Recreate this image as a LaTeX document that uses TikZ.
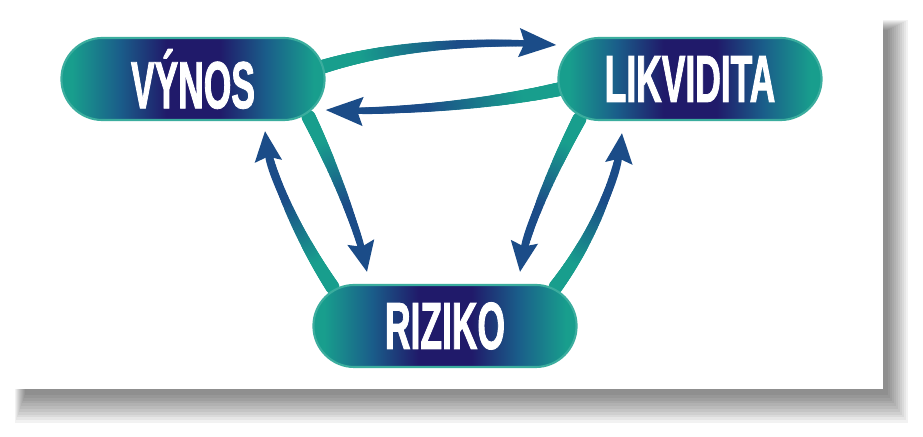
\documentclass[tikz,border=0pt]{standalone}
\usepackage{fontspec}
\usepackage{xcolor}
\usepackage{tikz}
\usetikzlibrary{positioning, arrows.meta, decorations.markings}
\newfontfamily\pismo[FakeStretch=0.53, FakeBold=1.2]{Liberation Sans}
\pgfdeclarelayer{pozadi}
\pgfdeclarelayer{spoje}
\pgfsetlayers{pozadi,spoje,main}
\definecolor{tyrkys}{HTML}{189E8D}
\definecolor{indigo}{HTML}{201A6A}
\definecolor{modra}{HTML}{1B4C88}
\definecolor{prechod}{HTML}{1A5E8A}
\pgfdeclarehorizontalshading{pilulka}{100bp}{color(0bp)=(tyrkys); color(27bp)=(tyrkys);
  color(36bp)=(prechod); color(45bp)=(indigo); color(55bp)=(indigo);
  color(64bp)=(prechod); color(73bp)=(tyrkys); color(100bp)=(tyrkys)}

\begin{document}
\begin{tikzpicture}[x=0.01cm, y=-0.01cm,
  uzel/.style={rectangle, rounded corners=4.1mm, minimum width=2.63cm, minimum height=0.82cm,
    inner sep=0pt, shading=pilulka, draw=tyrkys!85, line width=0.6pt, text=white,
    font=\pismo\bfseries\fontsize{19}{19}\selectfont},
  sipka/.style={draw=modra, line width=1.5pt, -{Stealth[length=8.5pt, width=7.5pt, inset=1.2pt]},
    postaction={decorate, decoration={markings,
      mark=between positions 0 and 0.9 step 0.4pt with {
        \pgfmathsetmacro\f{\pgfkeysvalueof{/pgf/decoration/mark info/distance from start}/\pgfdecoratedpathlength}
        \pgfmathsetmacro\r{2.0-1.3*\f}
        \pgfmathsetmacro\m{max(0,min(100,(\f-0.2)*250))}
        \fill[modra!\m!tyrkys] (0,0) circle[radius=\r pt];
      }}}},
  vodorovna/.style={-{Stealth[length=10.5pt, width=8pt, inset=1.5pt]}}]
\useasboundingbox (0,0) rectangle (923,437);

% VRSTVA 1: karta se stinem
\begin{pgfonlayer}{pozadi}
\foreach \i in {0,2,...,20}
  \fill[black, opacity=0.05] (25-\i*0.5, 30-\i*0.5) rectangle (888+\i, 395+\i*1.4);
\fill[white] (12,16) rectangle (883,389);
\end{pgfonlayer}

% VRSTVA 2: uzly
\node[uzel] (vynos) at (193,79) {VÝNOS};
\node[uzel] (likvidita) at (690,79) {LIKVIDITA};
\node[uzel] (riziko) at (445,326) {RIZIKO};

% VRSTVA 3: sipky
\begin{pgfonlayer}{spoje}
\draw[sipka, vodorovna] ([shift={(-7,-11)}]vynos.east) .. controls +(72,-23) and +(-77,-5) .. ([shift={(-1,-34)}]likvidita.west);
\draw[sipka, vodorovna] ([shift={(7,9)}]likvidita.west) .. controls +(-65,15) and +(75,3) .. ([shift={(0,31)}]vynos.east);
\draw[sipka] ([shift={(-17,-4)}]vynos.south east) .. controls +(22,44) and +(-10,-48) .. ([shift={(-78,-12)}]riziko.north);
\draw[sipka] ([shift={(20,3)}]riziko.north west) .. controls +(-32,-48) and +(5,45) .. ([shift={(72,10)}]vynos.south);
\draw[sipka] ([shift={(22,-2)}]likvidita.south west) .. controls +(-22,42) and +(7,-48) .. ([shift={(75,-12)}]riziko.north);
\draw[sipka] ([shift={(-22,3)}]riziko.north east) .. controls +(36,-48) and +(-5,48) .. ([shift={(-68,12)}]likvidita.south);
\end{pgfonlayer}
\end{tikzpicture}
\end{document}
